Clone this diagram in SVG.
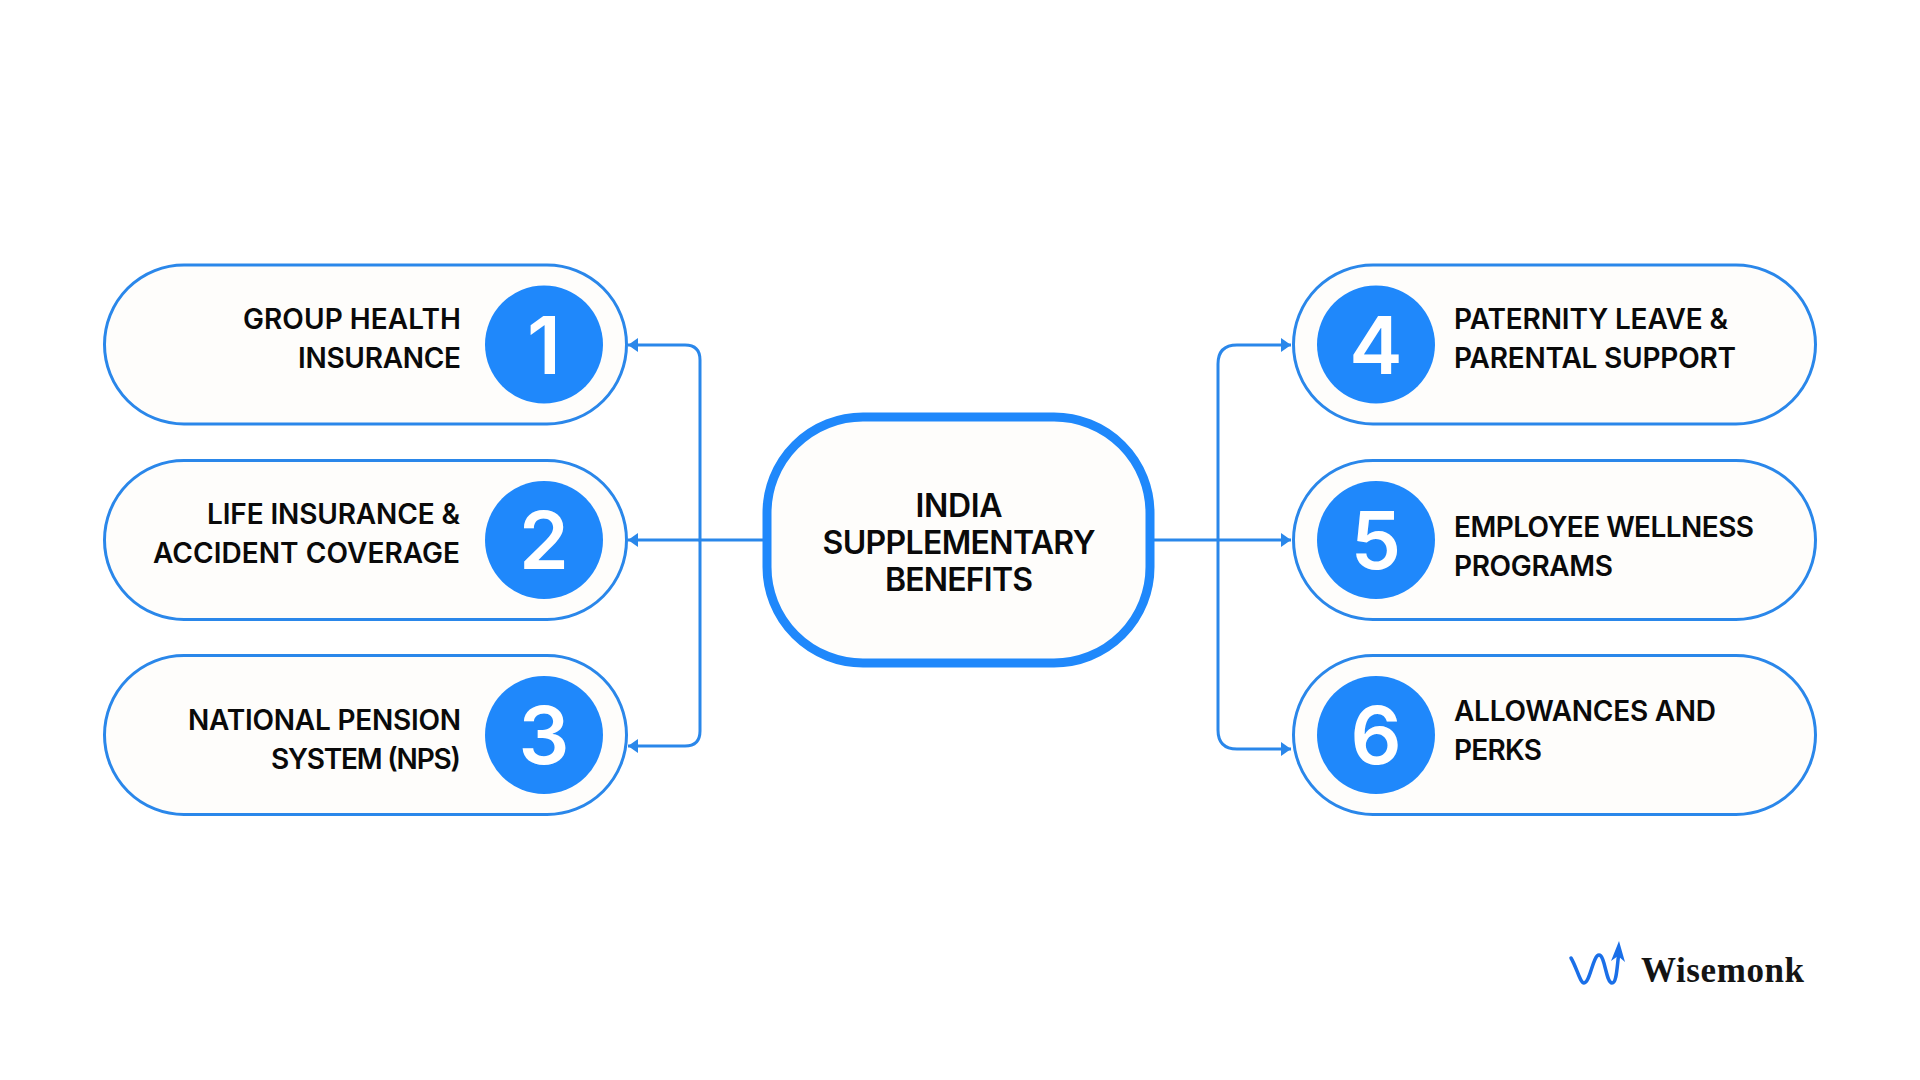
<svg xmlns="http://www.w3.org/2000/svg" width="1920" height="1080" viewBox="0 0 1920 1080">
<defs>
<style>
.pill{fill:#fefdfb;stroke:#2a87ea;stroke-width:3}
.badge{fill:#1f88fb}
.num{font-family:Inter,"Liberation Sans",sans-serif;font-size:80px;font-weight:600;fill:#fff;text-anchor:middle}
.lbl{font-family:Inter,"Liberation Sans",sans-serif;font-size:28px;font-weight:600;fill:#0a0a0a}
.end{text-anchor:end}
.ctr{font-family:Inter,"Liberation Sans",sans-serif;font-size:32px;font-weight:600;fill:#0a0a0a;text-anchor:middle}
.conn{fill:none;stroke:#2a87ea;stroke-width:3;marker-end:url(#ah)}
</style>
<marker id="ah" markerUnits="userSpaceOnUse" markerWidth="12" markerHeight="14" refX="10" refY="7" orient="auto">
<path d="M0 0L10 7L0 14Z" fill="#2a87ea"/>
</marker>
</defs>
<rect width="1920" height="1080" fill="#fff"/>
<g id="connectors">
<path class="conn" d="M700 540H628"/>
<path class="conn" d="M766 540H700V360Q700 345 685 345H628"/>
<path class="conn" d="M700 540V731Q700 746 685 746H628"/>
<path class="conn" d="M1151 540H1291"/>
<path class="conn" d="M1218 540V364Q1218 345 1237 345H1291"/>
<path class="conn" d="M1218 540V730Q1218 749 1237 749H1291"/>
</g>
<g id="center"><rect x="767" y="417" width="383" height="246" rx="96" fill="#fefdfb" stroke="#1f88fb" stroke-width="9"/>
<text class="ctr" x="959" y="517" textLength="87">INDIA</text><text class="ctr" x="959" y="554" textLength="273">SUPPLEMENTARY</text><text class="ctr" x="959" y="591" textLength="148">BENEFITS</text></g>
<g id="node1"><rect class="pill" x="104.500" y="265" width="522" height="159" rx="79.500"/><circle class="badge" cx="544" cy="344.500" r="59"/><text class="num" x="544" y="374">1</text>
<text class="lbl end" x="461" y="329" textLength="218">GROUP HEALTH</text><text class="lbl end" x="461" y="368" textLength="163">INSURANCE</text></g>
<g id="node2"><rect class="pill" x="104.500" y="460.500" width="522" height="159" rx="79.500"/><circle class="badge" cx="544" cy="540" r="59"/><text class="num" x="544" y="569">2</text>
<text class="lbl end" x="460" y="524" textLength="253">LIFE INSURANCE &amp;</text><text class="lbl end" x="460" y="563" textLength="307">ACCIDENT COVERAGE</text></g>
<g id="node3"><rect class="pill" x="104.500" y="655.500" width="522" height="159" rx="79.500"/><circle class="badge" cx="544" cy="735" r="59"/><text class="num" x="544" y="764">3</text>
<text class="lbl end" x="461" y="730" textLength="273">NATIONAL PENSION</text><text class="lbl end" x="461" y="769" textLength="190">SYSTEM (NPS)</text></g>
<g id="node4"><rect class="pill" x="1293.500" y="265" width="522" height="159" rx="79.500"/><circle class="badge" cx="1376" cy="344.500" r="59"/><text class="num" x="1376" y="374">4</text>
<text class="lbl" x="1454" y="329" textLength="274">PATERNITY LEAVE &amp;</text><text class="lbl" x="1454" y="368" textLength="282">PARENTAL SUPPORT</text></g>
<g id="node5"><rect class="pill" x="1293.500" y="460.500" width="522" height="159" rx="79.500"/><circle class="badge" cx="1376" cy="540" r="59"/><text class="num" x="1376" y="569">5</text>
<text class="lbl" x="1454" y="537" textLength="300">EMPLOYEE WELLNESS</text><text class="lbl" x="1454" y="576" textLength="159">PROGRAMS</text></g>
<g id="node6"><rect class="pill" x="1293.500" y="655.500" width="522" height="159" rx="79.500"/><circle class="badge" cx="1376" cy="735" r="59"/><text class="num" x="1376" y="764">6</text>
<text class="lbl" x="1454" y="721" textLength="262">ALLOWANCES AND</text><text class="lbl" x="1454" y="760" textLength="88">PERKS</text></g>
<g id="logo"><path d="M1571 958C1577 968 1580 983 1584 983C1590 983 1593 955 1599 955C1605 955 1606 983 1612 983C1617 983 1617 965 1619 952" fill="none" stroke="#1a6fe8" stroke-width="3.500" stroke-linecap="round"/>
<path d="M1619 941L1611 961L1618 956L1625 962Z" fill="#1a6fe8"/>
<text x="1641" y="982" font-family="'Liberation Serif',serif" font-weight="700" font-size="35" fill="#141414" textLength="163">Wisemonk</text></g>
</svg>
